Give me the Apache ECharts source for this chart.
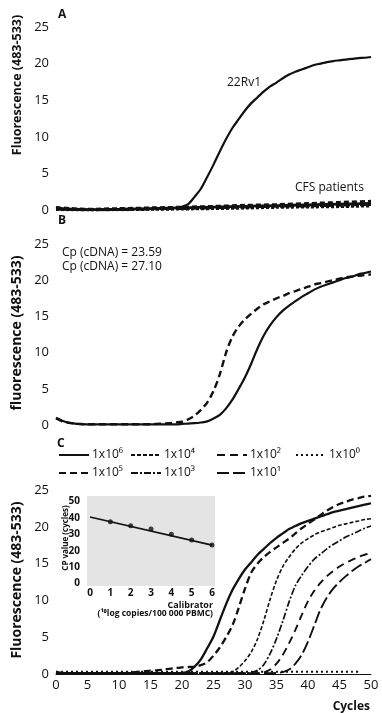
<!DOCTYPE html>
<html>
<head>
<meta charset="utf-8">
<script src="https://cdn.jsdelivr.net/npm/echarts@6/dist/echarts.min.js"></script>
<style>
  html, body { margin: 0; padding: 0; background: #fff; }
  #main { width: 382px; height: 713px; }
</style>
</head>
<body>
<div id="main"></div>
<script>
// cycles 0..50, shared by every curve
var cycles = [0,1,2,3,4,5,6,7,8,9,10,11,12,13,14,15,16,17,18,19,20,21,22,23,24,25,
              26,27,28,29,30,31,32,33,34,35,36,37,38,39,40,41,42,43,44,45,46,47,48,49,50];
var yTicks = [0, 5, 10, 15, 20, 25];

// panel A
var rv1 = [0.4,0.15,0.05,0,0,0,0,0,0,0,
           0.05,0.05,0.1,0.1,0.1,0.15,0.15,0.2,0.25,0.3,
           0.45,0.8,1.8,2.9,4.5,6.2,8.0,9.7,11.2,12.4,
           13.6,14.6,15.4,16.2,16.9,17.4,18.0,18.5,18.9,19.2,
           19.5,19.8,20.0,20.2,20.35,20.45,20.55,20.65,20.75,20.8,
           20.9];
var cfsCycles = [0,5,10,15,20,25,30,35,40,45,50];
var cfs1 = [0.25,0.05,0.1,0.2,0.3,0.4,0.5,0.6,0.7,0.8,0.9];
var cfs2 = [0.1,0.02,0.05,0.15,0.2,0.3,0.4,0.5,0.55,0.65,0.75];
var cfs3 = [0.35,0.12,0.2,0.3,0.4,0.5,0.65,0.75,0.9,1.05,1.2];
var cfs4 = [0.05,0.0,0.02,0.08,0.12,0.18,0.25,0.35,0.4,0.45,0.55];

// panel B
var cp27 = [1.0,0.6,0.35,0.2,0.15,0.1,0.1,0.1,0.1,0.1,
            0.1,0.1,0.1,0.1,0.1,0.1,0.1,0.1,0.1,0.1,
            0.15,0.2,0.25,0.35,0.5,0.9,1.4,2.3,3.5,5.0,
            6.6,8.5,10.6,12.4,13.8,14.9,15.8,16.5,17.1,17.7,
            18.2,18.7,19.1,19.4,19.7,20.0,20.3,20.5,20.8,21.0,
            21.2];
var cp23 = [0.9,0.5,0.3,0.2,0.1,0.1,0.1,0.1,0.1,0.1,
            0.1,0.1,0.1,0.1,0.1,0.1,0.15,0.2,0.25,0.35,
            0.45,0.8,1.3,2.1,3.1,4.7,7.0,10.0,12.2,13.6,
            14.6,15.4,16.1,16.7,17.1,17.5,17.8,18.2,18.5,18.8,
            19.1,19.4,19.6,19.8,20.0,20.2,20.4,20.5,20.6,20.7,
            20.8];

// panel C dilution series
var c6 = [0.3,0.15,0.1,0.1,0.1,0.1,0.1,0.1,0.1,0.1,
          0.1,0.1,0.1,0.1,0.1,0.1,0.1,0.1,0.1,0.1,
          0.15,0.35,1.0,2.0,3.5,5.1,7.3,9.5,11.4,12.9,
          14.2,15.2,16.2,17.0,17.8,18.5,19.1,19.7,20.1,20.5,
          20.8,21.1,21.4,21.7,22.0,22.2,22.4,22.6,22.8,23.0,
          23.2];
var c5 = [0.2,0.1,0.1,0.1,0.1,0.1,0.1,0.1,0.1,0.1,
          0.1,0.1,0.2,0.3,0.4,0.45,0.5,0.6,0.7,0.8,
          0.9,0.95,1.0,1.2,1.6,2.5,3.6,5.0,6.6,9.0,
          11.6,13.8,15.0,15.9,16.6,17.2,17.8,18.4,19.1,19.8,
          20.4,21.0,21.6,22.2,22.7,23.1,23.4,23.7,23.9,24.1,
          24.2];
var c4 = [0.1,0.1,0.1,0.1,0.1,0.1,0.1,0.1,0.1,0.1,
          0.1,0.1,0.1,0.1,0.1,0.1,0.1,0.1,0.1,0.1,
          0.1,0.1,0.1,0.1,0.1,0.1,0.1,0.15,0.3,0.9,
          1.8,3.0,4.8,7.3,10.2,12.7,14.6,15.9,17.0,17.8,
          18.4,18.9,19.3,19.6,19.9,20.2,20.4,20.6,20.8,21.0,
          21.1];
var c3 = [0.1,0.1,0.1,0.1,0.1,0.1,0.1,0.1,0.1,0.1,
          0.1,0.1,0.1,0.1,0.1,0.1,0.1,0.1,0.1,0.1,
          0.1,0.1,0.1,0.1,0.1,0.1,0.1,0.1,0.1,0.1,
          0.1,0.2,0.5,1.3,2.8,4.8,7.2,9.8,12.0,13.4,
          14.6,15.6,16.3,17.0,17.6,18.1,18.6,19.0,19.4,19.8,
          20.1];
var c2 = [0.1,0.1,0.1,0.1,0.1,0.1,0.1,0.1,0.1,0.1,
          0.1,0.1,0.1,0.1,0.1,0.1,0.1,0.1,0.1,0.1,
          0.1,0.1,0.1,0.1,0.1,0.1,0.1,0.1,0.1,0.1,
          0.1,0.1,0.1,0.2,0.6,1.4,2.6,4.2,6.0,8.0,
          9.9,11.3,12.4,13.3,14.0,14.6,15.1,15.5,15.9,16.2,
          16.5];
var c1 = [0.1,0.1,0.1,0.1,0.1,0.1,0.1,0.1,0.1,0.1,
          0.1,0.1,0.1,0.1,0.1,0.1,0.1,0.1,0.1,0.1,
          0.1,0.1,0.1,0.1,0.1,0.1,0.1,0.1,0.1,0.1,
          0.1,0.1,0.1,0.1,0.1,0.15,0.25,0.6,1.4,2.6,
          4.4,6.6,8.8,10.4,11.6,12.5,13.3,14.0,14.6,15.1,
          15.6];
var c0 = [0.3,0.3,0.3,0.3,0.3,0.3,0.3,0.3,0.3,0.3,
          0.3,0.3,0.3,0.3,0.3,0.3,0.3,0.3,0.3,0.3,
          0.3,0.3,0.3,0.3,0.3,0.3,0.3,0.3,0.3,0.3,
          0.3,0.3,0.3,0.3,0.3,0.3,0.3,0.3,0.3,0.3,
          0.3,0.3,0.3,0.3,0.3,0.3,0.3,0.3,0.3];

// inset: calibration
var calX = [1, 2, 3, 4, 5, 6];
var calCp = [37.6, 35.2, 33.2, 30.1, 26.6, 23.4];
var fitX = [0, 6];
var fitCp = [40.5, 23.4];

var FONT = 'Open Sans';
var INK = '#111';

function pairs(xs, ys) {
  var out = [];
  for (var i = 0; i < ys.length; i++) out.push([xs[i], ys[i]]);
  return out;
}

function curve(name, grid, ys, width, dash, xs) {
  return {
    name: name, type: 'line', xAxisIndex: grid, yAxisIndex: grid,
    data: pairs(xs || cycles, ys), smooth: 0.3, symbol: 'none',
    lineStyle: { color: INK, width: width, type: dash || 'solid' },
    itemStyle: { color: INK },
    silent: true
  };
}

var myChart = echarts.init(document.getElementById('main'));

var mainGrids = [
  { left: 56, right: 11, top: 27, height: 183 },
  { left: 56, right: 11, top: 244, height: 181 },
  { left: 56, right: 11, top: 490, height: 184 }
];

var xAxes = [0, 1, 2].map(function (i) {
  return {
    type: 'value', gridIndex: i, min: 0, max: 50, interval: 5,
    show: i === 2,
    axisLine: { show: true, lineStyle: { color: INK, width: 1 } },
    axisTick: { show: false },
    splitLine: { show: false },
    axisLabel: { color: INK, fontFamily: FONT, fontSize: 13, margin: 5 }
  };
});
var yAxes = [0, 1, 2].map(function (i) {
  return {
    type: 'value', gridIndex: i, min: yTicks[0], max: yTicks[yTicks.length - 1], interval: 5,
    axisLine: { show: false }, axisTick: { show: false }, splitLine: { show: false },
    axisLabel: { color: INK, fontFamily: FONT, fontSize: 13, margin: 7 }
  };
});

// inset axes
xAxes.push({
  type: 'value', gridIndex: 3, min: 0, max: 6, interval: 1,
  axisLine: { show: false }, axisTick: { show: false }, splitLine: { show: false },
  axisLabel: { color: INK, fontFamily: FONT, fontSize: 10, fontWeight: 'bold', margin: 5 }
});
yAxes.push({
  type: 'value', gridIndex: 3, min: 0, max: 50, interval: 10,
  axisLine: { show: false }, axisTick: { show: false }, splitLine: { show: false },
  axisLabel: { color: INK, fontFamily: FONT, fontSize: 10, fontWeight: 'bold', margin: 10 }
});

var series = [
  curve('22Rv1', 0, rv1, 2.2),
  curve('cfs1', 0, cfs1, 2.8, 'solid', cfsCycles),
  curve('cfs2', 0, cfs2, 2.8, [6, 2], cfsCycles),
  curve('cfs3', 0, cfs3, 2.8, [5, 3], cfsCycles),
  curve('cfs4', 0, cfs4, 2.8, [3, 2], cfsCycles),
  curve('Cp 27.10', 1, cp27, 2.2),
  curve('Cp 23.59', 1, cp23, 2.4, [7, 4]),
  curve('1x10⁶', 2, c6, 2.3),
  curve('1x10⁵', 2, c5, 2.3, [7, 4]),
  curve('1x10⁴', 2, c4, 1.6, [4, 2]),
  curve('1x10³', 2, c3, 1.7, [7, 2, 2, 2]),
  curve('1x10²', 2, c2, 1.9, [8, 5]),
  curve('1x10¹', 2, c1, 1.9, [12, 4]),
  curve('1x10⁰', 2, c0, 2, [2, 3]),
  curve('fit', 3, fitCp, 1.6, 'solid', fitX),
  {
    name: 'calibrator', type: 'scatter', xAxisIndex: 3, yAxisIndex: 3,
    data: pairs(calX, calCp), symbolSize: 5, itemStyle: { color: INK }, silent: true
  }
];

function legendItem(name, left, top) {
  return {
    data: [name], left: left, top: top, padding: 0, itemGap: 0,
    itemWidth: 30, itemHeight: 12, selectedMode: false,
    itemStyle: { opacity: 0 },
    textStyle: { color: INK, fontFamily: FONT, fontSize: 12, padding: [0, 0, 0, -2] }
  };
}

function label(text, x, y, opts) {
  opts = opts || {};
  return {
    type: 'text', x: x, y: y, rotation: opts.rotation || 0, silent: true,
    style: {
      text: text, fill: INK, fontFamily: FONT,
      fontSize: opts.size || 12, fontWeight: opts.bold ? 'bold' : 'normal',
      align: opts.align || 'left', verticalAlign: 'middle'
    }
  };
}

var option = {
  animation: false,
  backgroundColor: '#fff',
  grid: mainGrids.concat([{ left: 90, width: 122, top: 501.5, height: 82 }]),
  xAxis: xAxes,
  yAxis: yAxes,
  legend: [
    legendItem('1x10⁶', 58, 449),
    legendItem('1x10⁴', 130, 449),
    legendItem('1x10²', 216, 449),
    legendItem('1x10⁰', 295, 449),
    legendItem('1x10⁵', 58, 467),
    legendItem('1x10³', 130, 467),
    legendItem('1x10¹', 216, 467)
  ],
  graphic: [
    { type: 'rect', shape: { x: 87, y: 496, width: 128, height: 90 },
      style: { fill: '#e4e4e4' }, silent: true, z: -1 },
    label('A', 58, 15, { bold: true }),
    label('B', 58, 221, { bold: true }),
    label('C', 57, 444, { bold: true }),
    label('Fluorescence (483-533)', 17, 85, { bold: true, size: 12.5, align: 'center', rotation: Math.PI / 2 }),
    label('fluorescence (483-533)', 17, 333, { bold: true, size: 14, align: 'center', rotation: Math.PI / 2 }),
    label('Fluorescence (483-533)', 17, 580, { bold: true, size: 14, align: 'center', rotation: Math.PI / 2 }),
    label('22Rv1', 244, 83, { align: 'center' }),
    label('CFS patients', 295, 188),
    label('Cp (cDNA) = 23.59', 62, 253),
    label('Cp (cDNA) = 27.10', 62, 267),
    label('Cycles', 370, 707, { bold: true, align: 'right' }),
    label('CP value (cycles)', 66, 538, { bold: true, size: 8, align: 'center', rotation: Math.PI / 2 }),
    label('Calibrator', 213, 605, { bold: true, size: 9, align: 'right' }),
    label('(¹⁰log copies/100 000 PBMC)', 213, 614, { bold: true, size: 8.5, align: 'right' })
  ],
  series: series
};

myChart.setOption(option);
</script>
</body>
</html>
